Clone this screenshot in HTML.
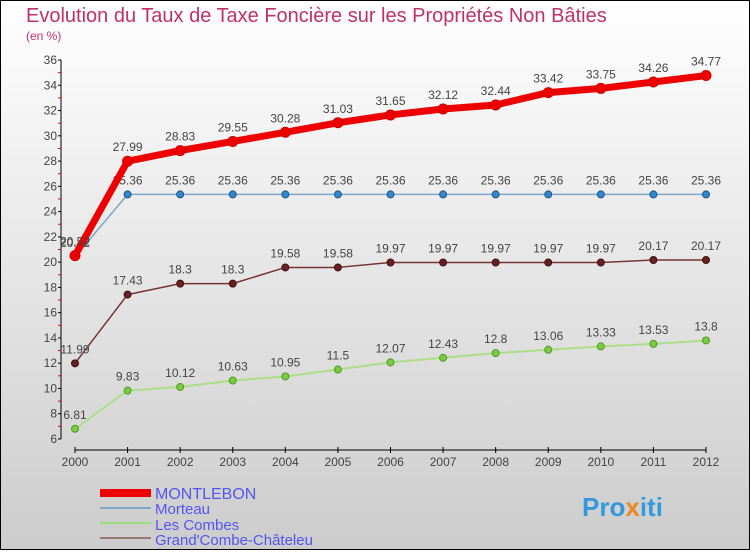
<!DOCTYPE html>
<html><head><meta charset="utf-8"><style>
body{margin:0;width:750px;height:550px;overflow:hidden;font-family:"Liberation Sans",sans-serif}
</style></head><body>
<svg width="750" height="550" xmlns="http://www.w3.org/2000/svg">
<defs><linearGradient id="bg" x1="0" y1="0" x2="0" y2="1"><stop offset="0" stop-color="#ffffff"/><stop offset="1" stop-color="#cccccc"/></linearGradient></defs>
<rect x="0.5" y="0.5" width="749" height="549" fill="url(#bg)" stroke="#000"/>
<text x="26" y="22" font-size="20" fill="#c0306a">Evolution du Taux de Taxe Foncière sur les Propriétés Non Bâties</text>
<text x="26" y="40" font-size="12" fill="#c0306a">(en %)</text>
<g id="axes"></g><g id="series"></g>
<g>
<rect x="100" y="489" width="51" height="8" fill="#ee0000"/>
<line x1="100" y1="508" x2="151" y2="508" stroke="#7ea8c8" stroke-width="2"/>
<line x1="100" y1="523" x2="151" y2="523" stroke="#99dd77" stroke-width="2"/>
<line x1="100" y1="538" x2="151" y2="538" stroke="#997777" stroke-width="2"/>
<text x="155" y="499" font-size="16" fill="#5555ee">MONTLEBON</text>
<text x="155" y="514" font-size="15" fill="#5555ee">Morteau</text>
<text x="155" y="530" font-size="15" fill="#5555ee">Les Combes</text>
<text x="155" y="545" font-size="15" fill="#5555ee">Grand'Combe-Châteleu</text>
</g>
<text x="582" y="516" font-size="26" font-weight="bold" fill="#3399dd">Pro<tspan fill="#ee8822">x</tspan>iti</text>
</svg>
<script>
const years=[2000,2001,2002,2003,2004,2005,2006,2007,2008,2009,2010,2011,2012];
const yTicks=[6,8,10,12,14,16,18,20,22,24,26,28,30,32,34,36];
const montlebon=[20.52,27.99,28.83,29.55,30.28,31.03,31.65,32.12,32.44,33.42,33.75,34.26,34.77];
const morteau=[20.42,25.36,25.36,25.36,25.36,25.36,25.36,25.36,25.36,25.36,25.36,25.36,25.36];
const combes=[6.81,9.83,10.12,10.63,10.95,11.5,12.07,12.43,12.8,13.06,13.33,13.53,13.8];
const grand=[11.99,17.43,18.3,18.3,19.58,19.58,19.97,19.97,19.97,19.97,19.97,20.17,20.17];
const NS="http://www.w3.org/2000/svg";
const xs=i=>75+i*(706-75)/(years.length-1);
const ys=v=>439-(v-6)*(439-60)/30;
function mk(p,t,a){const e=document.createElementNS(NS,t);for(const k in a)e.setAttribute(k,a[k]);p.appendChild(e);return e;}
const ax=document.getElementById('axes');
let l=mk(ax,'line',{x1:61,y1:60,x2:61,y2:439,stroke:'#000'});


l=mk(ax,'line',{x1:75,y1:450,x2:706,y2:450,stroke:'#000'});


yTicks.forEach(v=>{const y=ys(v);
mk(ax,'line',{x1:58,y1:y,x2:61,y2:y,stroke:'#000'});
if(v<36)mk(ax,'line',{x1:58,y1:ys(v+1),x2:61,y2:ys(v+1),stroke:'#ee0000'});
const t=mk(ax,'text',{x:57,y:y+4,'font-size':12,'text-anchor':'end',fill:'#444'});t.textContent=v;

});
years.forEach((yr,i)=>{const x=xs(i);mk(ax,'line',{x1:x,y1:447,x2:x,y2:453,stroke:'#000'});
const t=mk(ax,'text',{x:x,y:466,'font-size':12,'text-anchor':'middle',fill:'#444'});t.textContent=yr;

});
const sg=document.getElementById('series');
function series(name,vals,col,w,dot,dotStroke,r){
const g=mk(sg,'g',{});


mk(g,'polyline',{points:vals.map((v,i)=>xs(i)+','+ys(v)).join(' '),fill:'none',stroke:col,'stroke-width':w,'stroke-linejoin':'round'});
vals.forEach((v,i)=>{const c=mk(g,'circle',{cx:xs(i),cy:ys(v),r:r,fill:dot,stroke:dotStroke});


const t=mk(g,'text',{x:xs(i),y:ys(v)-10,'font-size':12,'text-anchor':'middle',fill:'#444'});t.textContent=v;

});}
series('les-combes',combes,'#aade88',2,'#77cc44','#559922',3.5);
series('grand-combe',grand,'#773333',1.5,'#662222','#441111',3.5);
series('morteau',morteau,'#7ea8c8',1.5,'#3388cc','#225588',3.5);
series('montlebon',montlebon,'#ee0000',7,'#ee0000','#cc0000',5);
</script>
</body></html>
